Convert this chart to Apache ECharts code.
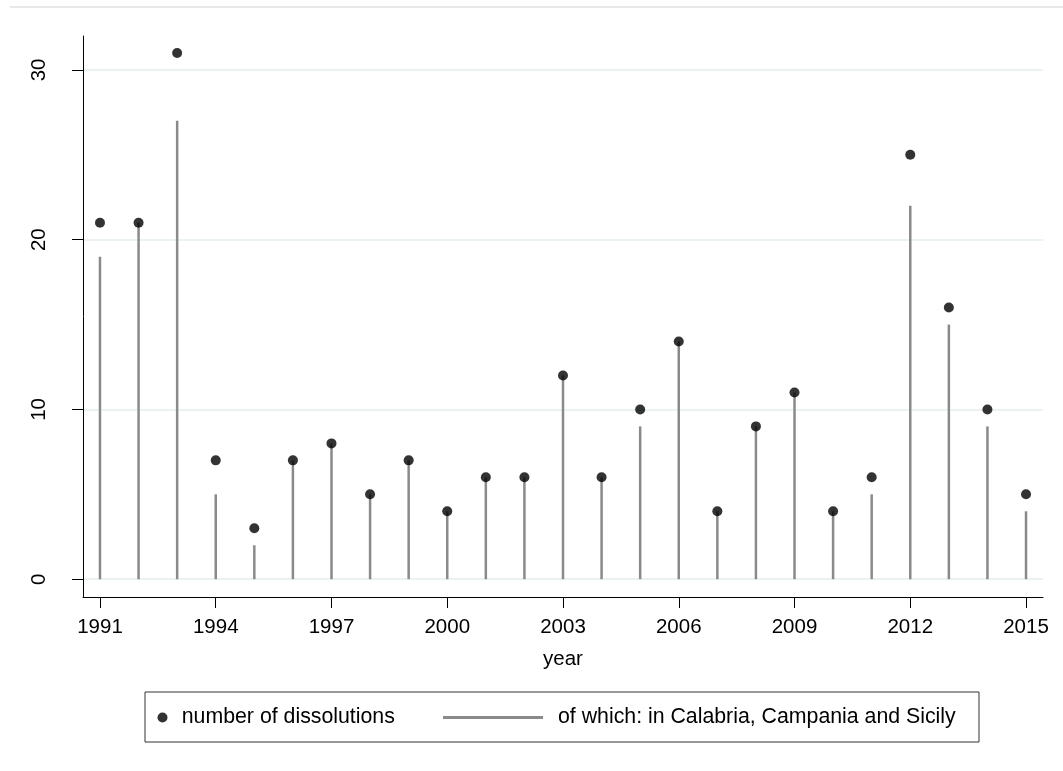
<!DOCTYPE html>
<html>
<head>
<meta charset="utf-8">
<script src="https://cdn.jsdelivr.net/npm/echarts@6/dist/echarts.min.js"></script>
<style>
html,body{margin:0;padding:0;background:#fff;}
#chart{width:1063px;height:771px;}
</style>
</head>
<body>
<div id="chart"></div>
<script>
var years = [1991,1992,1993,1994,1995,1996,1997,1998,1999,2000,2001,2002,2003,2004,2005,2006,2007,2008,2009,2010,2011,2012,2013,2014,2015];
var dissolutions = [21,21,31,7,3,7,8,5,7,4,6,6,12,6,10,14,4,9,11,4,6,25,16,10,5];
var southern = [19,21,27,5,2,7,8,5,7,4,6,6,12,6,9,14,4,9,11,4,5,22,15,9,4];
var xTicks = [1991,1994,1997,2000,2003,2006,2009,2012,2015];
var yTicks = [0,10,20,30];

var FONT = 'Liberation Sans, Arial, sans-serif';
var chart = echarts.init(document.getElementById('chart'), null, {renderer:'canvas'});

chart.setOption({
  backgroundColor: '#ffffff',
  animation: false,
  grid: {left: 83, right: 20, top: 36, bottom: 174, containLabel: false},
  xAxis: {
    type: 'value',
    min: 1990.56,
    max: 2015.44,
    name: 'year',
    nameLocation: 'middle',
    nameGap: 52,
    nameTextStyle: {color: '#000', fontSize: 20.5, fontFamily: FONT},
    axisLine: {show: true, onZero: false, lineStyle: {color: '#000', width: 1}},
    axisTick: {show: true, length: 11, lineStyle: {color: '#000'}, customValues: xTicks},
    axisLabel: {color: '#000', fontSize: 20.5, fontFamily: FONT, margin: 20, customValues: xTicks,
      formatter: function(v){ return String(v); }},
    splitLine: {show: false}
  },
  yAxis: {
    type: 'value',
    min: -1.05,
    max: 32,
    axisLine: {show: true, onZero: false, lineStyle: {color: '#000', width: 1}},
    axisTick: {show: true, length: 11, lineStyle: {color: '#000'}, customValues: yTicks},
    axisLabel: {color: '#000', fontSize: 20.5, fontFamily: FONT, rotate: 90, margin: 33, customValues: yTicks},
    splitLine: {show: true, lineStyle: {color: '#eaf2f3', width: 2}}
  },
  legend: [
    {
      data: ['number of dissolutions'],
      left: 157.5, top: 707, padding: 0,
      icon: 'circle', itemWidth: 28.5, itemHeight: 10,
      textStyle: {color: '#000', fontSize: 21.3, fontFamily: FONT},
      selectedMode: false
    },
    {
      data: ['of which: in Calabria, Campania and Sicily'],
      left: 443, top: 707, padding: 0,
      icon: 'rect', itemWidth: 100, itemHeight: 3,
      textStyle: {color: '#000', fontSize: 21.3, fontFamily: FONT, padding: [0,0,0,10]},
      selectedMode: false
    }
  ],
  graphic: [
    {type: 'line', shape: {x1: 10, y1: 7, x2: 1063, y2: 7}, style: {stroke: '#e8e8e8', lineWidth: 2}, silent: true},
    {type: 'rect', shape: {x: 145, y: 692, width: 834, height: 50}, style: {fill: 'none', stroke: '#333', lineWidth: 1}, silent: true}
  ],
  series: [
    {
      name: 'of which: in Calabria, Campania and Sicily',
      type: 'bar',
      barWidth: 2.5,
      itemStyle: {color: '#8a8a8a'},
      data: years.map(function(y, i){ return [y, southern[i]]; }),
      z: 2
    },
    {
      name: 'number of dissolutions',
      type: 'scatter',
      symbol: 'circle',
      symbolSize: 10,
      itemStyle: {color: '#000'},
      data: years.map(function(y, i){ return [y, dissolutions[i]]; }),
      z: 3
    }
  ]
});
</script>
</body>
</html>
